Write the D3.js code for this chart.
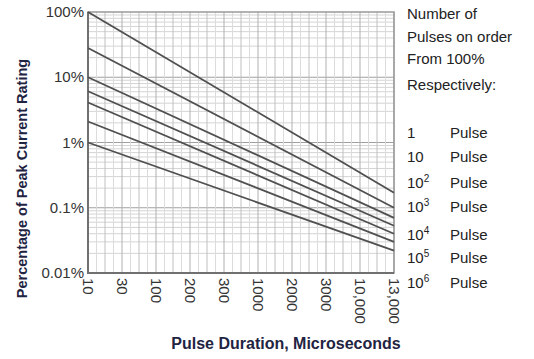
<!DOCTYPE html>
<html>
<head>
<meta charset="utf-8">
<script src="https://cdn.jsdelivr.net/npm/d3@7"></script>
<style>
  body { margin: 0; background: #fff; }
  text { font-family: "Liberation Sans", Arial, sans-serif; }
</style>
</head>
<body>
<svg id="chart"></svg>
<script>
// tick labels along the pulse-duration axis (evenly spaced on the sheet)
const durations = ["10", "30", "100", "200", "300", "1000", "2000", "3000", "10,000", "13,000"];
const yTicks = [100, 10, 1, 0.1, 0.01];
const yTickLabels = ["100%", "10%", "1%", "0.1%", "0.01%"];

// % of peak current at 10 us and at 13,000 us, one entry per curve
const startVals = [100, 28, 10, 6.1, 4.1, 2.1, 1.0];
const endVals = [0.17, 0.1, 0.07, 0.053, 0.04, 0.03, 0.022];

const legendHead = ["Number of", "Pulses on order", "From 100%", "Respectively:"];
const legendBase = ["1", "10", "10", "10", "10", "10", "10"];
const legendExp = ["", "", "2", "3", "4", "5", "6"];

const W = 534, H = 359;
const plot = {left: 88, right: 394, top: 12, bottom: 273};

const svg = d3.select("#chart").attr("width", W).attr("height", H);

const x = d3.scalePoint().domain(durations).range([plot.left, plot.right]);
const y = d3.scaleLog().domain([0.01, 100]).range([plot.bottom, plot.top]);

// horizontal grid: log minors
const g = svg.append("g");
[0.01, 0.1, 1, 10].forEach(d => {
  for (let k = 1; k < 10; k++) {
    const v = d * k;
    g.append("line")
      .attr("x1", plot.left).attr("x2", plot.right)
      .attr("y1", y(v)).attr("y2", y(v))
      .style("stroke", k == 1 ? "#a0a0a0" : "#d4d4d4")
      .style("stroke-width", 1);
  }
});

// vertical grid: majors at ticks, minors in between
const step = x.step();
durations.forEach((d, i) => {
  if (i < durations.length - 1) {
    [0.25, 0.5, 0.75].forEach(f => {
      const xx = x(d) + step * f;
      g.append("line")
        .attr("x1", xx).attr("x2", xx)
        .attr("y1", plot.top).attr("y2", plot.bottom)
        .style("stroke", f == 0.5 ? "#c0c0c0" : "#dcdcdc")
        .style("stroke-width", 1);
    });
  }
  g.append("line")
    .attr("x1", x(d)).attr("x2", x(d))
    .attr("y1", plot.top).attr("y2", plot.bottom)
    .style("stroke", "#b0b0b0")
    .style("stroke-width", 1);
});

// frame
svg.append("rect")
  .attr("x", plot.left).attr("y", plot.top)
  .attr("width", plot.right - plot.left).attr("height", plot.bottom - plot.top)
  .style("fill", "none").style("stroke", "#999").style("stroke-width", 1.5);
svg.append("path")
  .attr("d", `M${plot.left},${plot.top}V${plot.bottom}H${plot.right}`)
  .style("fill", "none").style("stroke", "#707070").style("stroke-width", 2);

// curves
const line = d3.line().x(d => x(d[0])).y(d => y(d[1]));
startVals.forEach((s, i) => {
  svg.append("path")
    .datum([[durations[0], s], [durations[durations.length - 1], endVals[i]]])
    .attr("d", line)
    .style("fill", "none")
    .style("stroke", "#505050")
    .style("stroke-width", 1.8);
});

// y tick labels
yTicks.forEach((t, i) => {
  svg.append("text")
    .attr("x", plot.left - 4).attr("y", y(t) + 5)
    .attr("text-anchor", "end")
    .style("font-size", "15px").style("fill", "#333")
    .text(yTickLabels[i]);
});

// x tick labels, rotated
durations.forEach(d => {
  svg.append("text")
    .attr("transform", `translate(${x(d) - 5},${plot.bottom + 5}) rotate(90)`)
    .style("font-size", "15px").style("fill", "#333")
    .text(d);
});

// axis titles
svg.append("text")
  .attr("transform", `translate(27,${(plot.top + plot.bottom) / 2 + 36}) rotate(-90)`)
  .attr("text-anchor", "middle")
  .style("font-size", "14.5px").style("font-weight", "bold").style("fill", "#1f2442")
  .text("Percentage of Peak Current Rating");

svg.append("text")
  .attr("x", 286).attr("y", 349)
  .attr("text-anchor", "middle")
  .style("font-size", "16px").style("font-weight", "bold").style("fill", "#1f2442")
  .text("Pulse Duration, Microseconds");

// legend
const headY = [19, 42, 64, 90];
legendHead.forEach((t, i) => {
  svg.append("text")
    .attr("x", 407).attr("y", headY[i])
    .style("font-size", "15px").style("fill", "#222")
    .text(t);
});
const rowY = [138, 162, 188, 212, 240, 263, 288];
legendBase.forEach((b, i) => {
  const t = svg.append("text")
    .attr("x", 407).attr("y", rowY[i])
    .style("font-size", "15px").style("fill", "#222");
  t.append("tspan").text(b);
  if (legendExp[i]) {
    t.append("tspan").attr("dy", -6).style("font-size", "10px").text(legendExp[i]);
  }
  svg.append("text")
    .attr("x", 450).attr("y", rowY[i])
    .style("font-size", "15px").style("fill", "#222")
    .text("Pulse");
});
</script>
</body>
</html>
